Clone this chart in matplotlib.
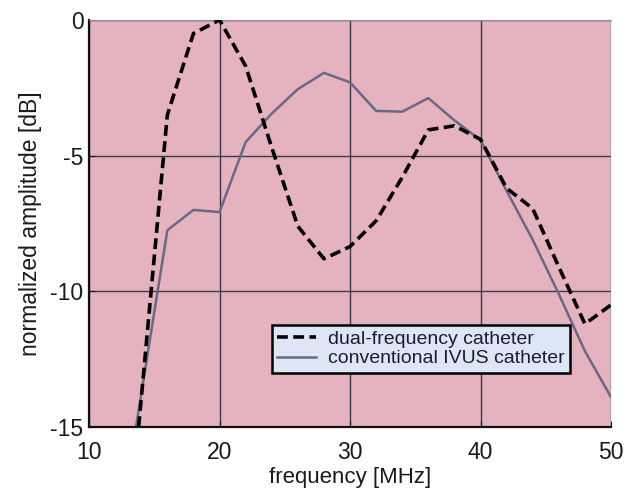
import numpy as np
import matplotlib.pyplot as plt

plt.rcParams['axes.unicode_minus'] = False
plt.rcParams['font.family'] = ['Liberation Sans', 'DejaVu Sans']

# dual-frequency catheter
dual_freq = [13.8, 16, 18, 20, 22, 24, 26, 28, 30, 32, 34, 36, 38, 40, 42, 44, 46, 48, 50]
dual_amp = [-15, -3.5, -0.5, 0.0, -1.7, -4.7, -7.6, -8.8, -8.35, -7.4, -5.8, -4.05, -3.9, -4.4, -6.2, -6.95, -9.1, -11.2, -10.5]

# conventional IVUS catheter
conv_freq = [13.6, 16, 18, 20, 22, 24, 26, 28, 30, 32, 34, 36, 38, 40, 42, 44, 46, 48, 50]
conv_amp = [-15, -7.75, -7.0, -7.08, -4.5, -3.45, -2.55, -1.95, -2.3, -3.35, -3.38, -2.88, -3.7, -4.43, -6.3, -8.1, -10.1, -12.2, -13.9]

fig = plt.figure(figsize=(6.27, 4.96), dpi=100)
ax = fig.add_axes([0.142, 0.139, 0.8325, 0.8208])
ax.set_facecolor('#e4b3bf')

ax.plot(dual_freq, dual_amp, color='black', linestyle=(0, (3, 1.5)), linewidth=2.6,
        label='dual-frequency catheter', zorder=3)
ax.plot(conv_freq, conv_amp, color='#6a6886', linestyle='-', linewidth=1.8,
        label='conventional IVUS catheter', zorder=2)

ax.set_xlim(10, 50)
ax.set_ylim(-15, 0)
ax.set_xticks([10, 20, 30, 40, 50])
ax.set_yticks([0, -5, -10, -15])
ax.grid(True, color='#3a3a48', linewidth=1.0)
ax.set_axisbelow(True)
ax.tick_params(direction='in', length=4, labelsize=16.5, colors='#1a1a1a')
ax.tick_params(axis='x', pad=10)
ax.tick_params(axis='y', pad=4)

for s in ['left', 'bottom']:
    ax.spines[s].set_linewidth(1.6)
    ax.spines[s].set_color('#111111')
ax.spines['top'].set_color('#8a8fa8')
ax.spines['top'].set_linewidth(0.8)
ax.spines['right'].set_visible(False)

ax.set_xlabel('frequency [MHz]', fontsize=16, labelpad=2, color='#1a1a1a')
ax.set_ylabel('normalized amplitude [dB]', fontsize=16.5, labelpad=6, color='#1a1a1a')

leg = ax.legend(loc='lower left', bbox_to_anchor=(0.35, 0.133), fontsize=14,
                frameon=True, fancybox=False, handlelength=2.0, borderpad=0.28,
                labelspacing=0.1, handletextpad=0.6, borderaxespad=0)
leg.get_frame().set_facecolor('#dce6f4')
leg.get_frame().set_edgecolor('black')
leg.get_frame().set_linewidth(1.8)
leg.get_frame().set_alpha(1)
for t in leg.get_texts():
    t.set_color('#1c1c3a')

fig.savefig('out.png', dpi=100)
